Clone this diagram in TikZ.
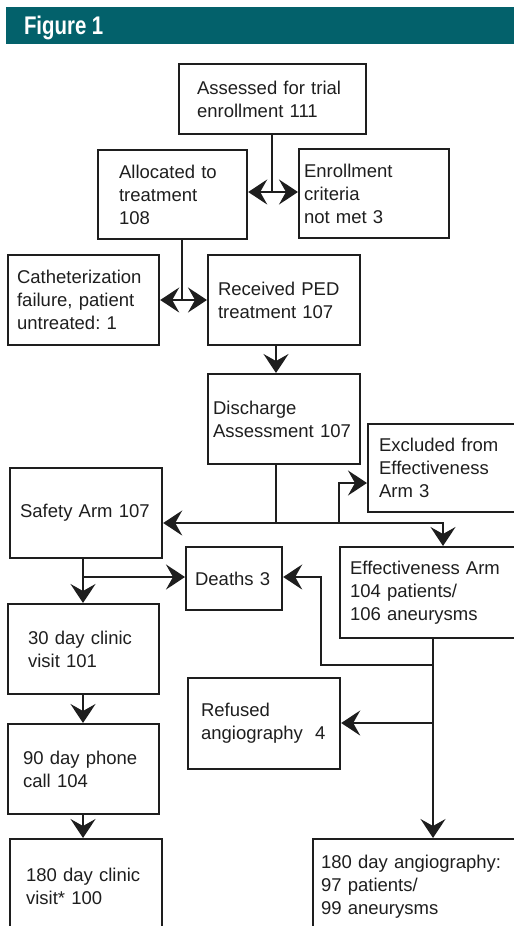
\documentclass[tikz,border=0pt]{standalone}
\usepackage{fontspec}
\setmainfont{Liberation Sans}
\newfontfamily\headfont[FakeStretch=0.8]{Liberation Sans}
\usetikzlibrary{arrows.meta}
\definecolor{headteal}{RGB}{3,97,107}
\definecolor{ink}{RGB}{30,30,30}

\begin{document}
\begin{tikzpicture}[x=1bp, y=-1bp, line width=2bp, color=ink,
	every node/.style={font=\fontsize{18.5bp}{23bp}\selectfont\frenchspacing, text=ink},
	box/.style n args={3}{draw, line width=2.2bp, anchor=north west, align=left, text width=#1, minimum height=#2, inner xsep=#3},
	arr/.style={-{Stealth[length=19bp, width=25bp, inset=7bp]}}]
	\clip (0,0) rectangle (514,926);
	\fill[headteal] (6,7) rectangle (514,44);
	\node[anchor=base west, inner sep=0pt, text=white, font=\headfont\bfseries\fontsize{25.5bp}{25.5bp}\selectfont] (title) at (23,34) {Figure 1};

	\node[box={151bp}{70bp}{18bp}] (asses) at (178,63) {Assessed for trial\\enrollment 111};
	\node[box={107bp}{89bp}{21bp}] (alloc) at (97,149) {Allocated to\\treatment\\108};
	\node[box={140bp}{89bp}{5bp}] (enrol) at (298,148) {Enrollment\\criteria\\not met 3};
	\node[box={133bp}{90bp}{9bp}] (cath) at (7,254) {Catheterization\\failure, patient\\untreated: 1};
	\node[box={132bp}{90bp}{10bp}] (recv) at (207,254) {Received PED\\treatment 107};
	\node[box={142bp}{90bp}{5bp}] (disch) at (207,373) {Discharge\\Assessment 107};
	\node[box={148bp}{88bp}{11bp}] (excl) at (367,423) {Excluded from\\Effectiveness\\Arm 3};
	\node[box={132bp}{90bp}{10bp}] (safety) at (9,467) {Safety Arm 107};
	\node[box={78bp}{63bp}{9bp}] (deaths) at (185,546) {Deaths 3};
	\node[box={178bp}{91bp}{10bp}] (effect) at (339,546) {Effectiveness Arm\\104 patients/\\106 aneurysms};
	\node[box={111bp}{90bp}{20bp}] (day30) at (7,603) {30 day clinic\\visit 101};
	\node[box={126bp}{91bp}{13bp}] (refused) at (187,677) {Refused\\angiography~~4};
	\node[box={121bp}{90bp}{15bp}] (day90) at (7,723) {90 day phone\\call 104};
	\node[box={120bp}{95bp}{16bp}] (day180) at (9,838) {180 day clinic\\visit* 100};
	\node[box={209bp}{95bp}{8bp}] (angio) at (312,838) {180 day angiography:\\97 patients/\\99 aneurysms};

	\coordinate (j1) at (272,192);
	\coordinate (j2) at (182,300);
	\coordinate (j3) at (276,523);
	\coordinate (j4) at (339,523);
	\coordinate (e1) at (339,483);
	\coordinate (k1) at (443,523);
	\coordinate (j5) at (83,577);
	\coordinate (j6) at (433,665);
	\coordinate (j7) at (433,723);
	\coordinate (d1) at (321,577);

	\draw (asses.south -| j1) -- (j1);
	\draw[arr] (j1) -- (alloc.east |- j1);
	\draw[arr] (j1) -- (enrol.west |- j1);
	\draw (alloc.south -| j2) -- (j2);
	\draw[arr] (j2) -- (cath.east |- j2);
	\draw[arr] (j2) -- (recv.west |- j2);
	\draw[arr] (recv.south -| j3) -- (disch.north -| j3);
	\draw (disch.south -| j3) -- (j3);
	\draw[arr] (j3) -- (safety.east |- j3);
	\draw[arr] (j3) -- (k1) -- (effect.north -| k1);
	\draw[arr] (j4) -- (e1) -- (excl.west |- e1);
	\draw (safety.south -| j5) -- (j5);
	\draw[arr] (j5) -- (day30.north -| j5);
	\draw[arr] (j5) -- (deaths.west |- j5);
	\draw[arr] (day30.south -| j5) -- (day90.north -| j5);
	\draw[arr] (day90.south -| j5) -- (day180.north -| j5);
	\draw[arr] (effect.south -| j6) -- (angio.north -| j6);
	\draw[arr] (j6) -| (d1) -- (deaths.east |- d1);
	\draw[arr] (j7) -- (refused.east |- j7);
\end{tikzpicture}
\end{document}
